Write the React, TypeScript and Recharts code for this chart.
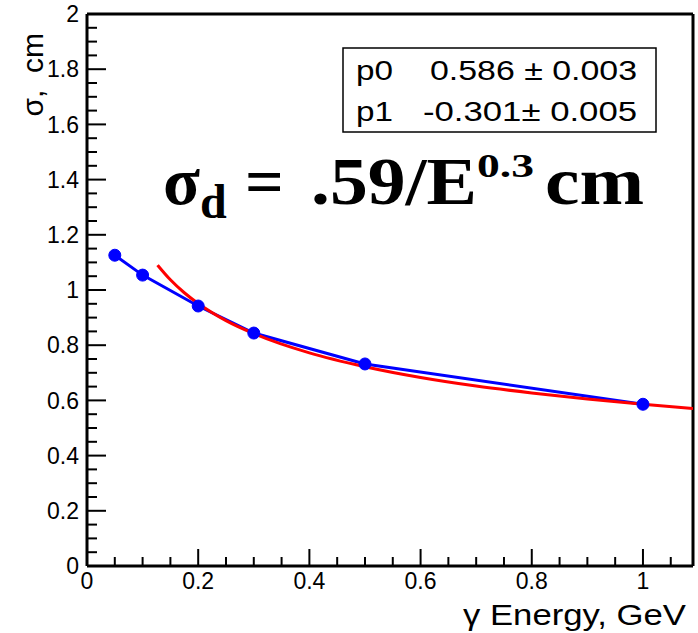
import { Line, LineChart, ReferenceLine, XAxis, YAxis } from "recharts";

// measured points
const energy = [0.05, 0.1, 0.2, 0.3, 0.5, 1.0];
const sigma = [1.126, 1.054, 0.942, 0.844, 0.732, 0.586];

// fit curve
const fitEnergy = [0.127, 0.15, 0.175, 0.2, 0.25, 0.3, 0.4, 0.5, 0.6, 0.7, 0.8, 0.9, 1.0, 1.09];
const fitSigma = [1.09, 1.037, 0.99, 0.951, 0.889, 0.842, 0.772, 0.722, 0.683, 0.652, 0.627, 0.605, 0.586, 0.571];

const xMajor = [0, 0.2, 0.4, 0.6, 0.8, 1];
const yMajor = [0, 0.2, 0.4, 0.6, 0.8, 1, 1.2, 1.4, 1.6, 1.8, 2];
const xTicks = Array.from({ length: 22 }, (_, i) => i * 0.05);
const yTicks = Array.from({ length: 41 }, (_, i) => i * 0.05);

const fitParams = [
  { name: "p0", value: "0.586 ± 0.003", width: 207 },
  { name: "p1", value: "-0.301± 0.005", width: 214 }
];

const points = energy.map((e, i) => ({ e, s: sigma[i] }));
const fit = fitEnergy.map((e, i) => ({ e, s: fitSigma[i] }));

const sans = "'Liberation Sans', Arial, sans-serif";
const serif = "'Liberation Serif', 'Times New Roman', serif";
const TICK_MARGIN = 6;

const isMajor = (v: number, list: number[]) => list.some((m) => Math.abs(m - v) < 1e-6);
const fmt = (v: number) => String(Number(v.toFixed(2)));

function YTick(props: any) {
  const { x, y, payload } = props;
  const axisX = x + TICK_MARGIN;
  const major = isMajor(payload.value, yMajor);
  return (
    <g>
      <line x1={axisX} x2={axisX + (major ? 19 : 10)} y1={y} y2={y} stroke="#000" strokeWidth={2} />
      {major && (
        <text x={x - 2} y={y} dy="0.36em" textAnchor="end" fontSize={23} fontFamily={sans} fill="#000">
          {fmt(payload.value)}
        </text>
      )}
    </g>
  );
}

function XTick(props: any) {
  const { x, y, payload } = props;
  const axisY = y - TICK_MARGIN;
  const major = isMajor(payload.value, xMajor);
  return (
    <g>
      <line x1={x} x2={x} y1={axisY} y2={axisY - (major ? 17 : 9)} stroke="#000" strokeWidth={2} />
      {major && (
        <text x={x} y={y} dy="0.72em" textAnchor="middle" fontSize={23} fontFamily={sans} fill="#000">
          {fmt(payload.value)}
        </text>
      )}
    </g>
  );
}

export default function App() {
  return (
    <div style={{ position: "absolute", left: 0, top: 0, width: 698, height: 633, background: "#fff" }}>
      <LineChart width={698} height={633} margin={{ top: 14, right: 5, left: 0, bottom: 0 }}>
        <XAxis
          dataKey="e"
          type="number"
          domain={[0, 1.09]}
          ticks={xTicks}
          interval={0}
          allowDataOverflow
          height={67}
          tickSize={0}
          tickMargin={TICK_MARGIN}
          tick={<XTick />}
          axisLine={{ stroke: "#000", strokeWidth: 3 }}
        />
        <YAxis
          dataKey="s"
          type="number"
          domain={[0, 2]}
          ticks={yTicks}
          interval={0}
          allowDataOverflow
          width={87}
          tickSize={0}
          tickMargin={TICK_MARGIN}
          tick={<YTick />}
          axisLine={{ stroke: "#000", strokeWidth: 3 }}
        />
        <ReferenceLine y={2} stroke="#000" strokeWidth={3} />
        <ReferenceLine x={1.09} stroke="#000" strokeWidth={3} />
        <Line
          data={points}
          dataKey="s"
          type="linear"
          stroke="#0000ff"
          strokeWidth={3}
          dot={{ r: 6, fill: "#0000ff", stroke: "#0000ff", strokeWidth: 1 }}
          isAnimationActive={false}
        />
        <Line
          data={fit}
          dataKey="s"
          type="monotone"
          stroke="#ff0000"
          strokeWidth={3}
          dot={false}
          isAnimationActive={false}
        />
      </LineChart>

      <svg width={698} height={633} style={{ position: "absolute", left: 0, top: 0, pointerEvents: "none" }}>
        {/* fit parameters box */}
        <rect x={343} y={48} width={313} height={84} fill="#fff" stroke="#000" strokeWidth={1.5} />
        {fitParams.map((p, i) => (
          <g key={p.name} fontFamily={sans} fontSize={28} fill="#000">
            <text x={356} y={80 + i * 41} textLength={37} lengthAdjust="spacingAndGlyphs">{p.name}</text>
            <text x={637 - p.width} y={80 + i * 41} textLength={p.width} lengthAdjust="spacingAndGlyphs">
              {p.value}
            </text>
          </g>
        ))}

        {/* formula */}
        <g fontFamily={serif} fontWeight="bold" fill="#000">
          <text x={163} y={204} fontSize={68}>σ</text>
          <text x={200} y={218} fontSize={48}>d</text>
          <text x={245} y={204} fontSize={68}>=</text>
          <text x={311} y={204} fontSize={68} textLength={166} lengthAdjust="spacingAndGlyphs">.59/E</text>
          <text x={477} y={177} fontSize={33} textLength={57} lengthAdjust="spacingAndGlyphs">0.3</text>
          <text x={545} y={204} fontSize={68} textLength={99} lengthAdjust="spacingAndGlyphs">cm</text>
        </g>

        {/* axis titles */}
        <text
          x={463}
          y={625}
          fontFamily={sans}
          fontSize={30}
          fill="#000"
          textLength={223}
          lengthAdjust="spacingAndGlyphs"
        >
          γ Energy, GeV
        </text>
        <text
          transform="translate(43,33) rotate(-90)"
          textAnchor="end"
          fontFamily={sans}
          fontSize={30}
          fill="#000"
        >
          σ,{"\u00a0\u00a0"}cm
        </text>
      </svg>
    </div>
  );
}
